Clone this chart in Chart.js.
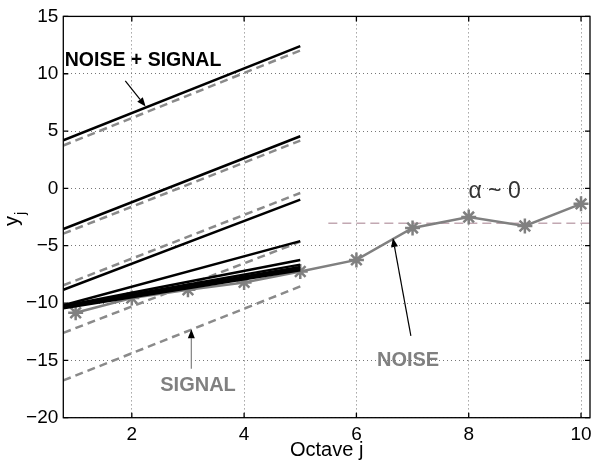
<!DOCTYPE html>
<html>
<head>
<meta charset="utf-8">
<script src="https://cdn.jsdelivr.net/npm/chart.js@4.4.1/dist/chart.umd.min.js"></script>
<style>
  html, body { margin: 0; padding: 0; background: #fff; }
  #wrap { width: 600px; height: 470px; }
</style>
</head>
<body>
<div id="wrap"><canvas id="c" width="600" height="470"></canvas></div>
<script>
// ---------- data ----------
const octaves = [1, 2, 3, 4, 5, 6, 7, 8, 9, 10];
const noise = [-10.85, -9.56, -8.84, -8.2, -7.25, -6.24, -3.45, -2.5, -3.28, -1.35];

// fitted lines over octaves [lineX0, lineX1]
const lineX = [0.78, 5];
const solidStart = [4.2, -3.55, -8.84, -10.2, -10.25, -10.3, -10.35, -10.4, -10.45];
const solidEnd   = [12.4, 4.55, -0.98, -4.6, -6.25, -6.65, -6.85, -7.0, -7.15];
const dashStart  = [3.74, -3.95, -8.45, -12.6, -16.75];
const dashEnd    = [12.03, 4.17, -0.4, -4.65, -8.55];

const refLevel = -3.05;
const refX = [5.5, 10.16];

const xRange = [0.78, 10.16];
const yRange = [-20, 15];
const xTicks = [2, 4, 6, 8, 10];
const yTicks = [-20, -15, -10, -5, 0, 5, 10, 15];

const textNotes = [
  { text: 'NOISE + SIGNAL', x: 2.2, y: 11.1, color: '#000000', weight: 'bold', size: 19.5 },
  { text: 'SIGNAL', x: 3.18, y: -17.2, color: '#808080', weight: 'bold', size: 20 },
  { text: 'NOISE', x: 6.92, y: -15.0, color: '#808080', weight: 'bold', size: 20 },
  { text: '\u03b1 ~ 0', x: 8.46, y: -0.3, color: '#333333', weight: 'normal', size: 23 }
];
const arrowNotes = [
  { from: [1.884, 9.38], to: [2.246, 7.14], shaft: '#000000', head: '#000000' },
  { from: [3.06, -15.74], to: [3.06, -12.29], shaft: '#808080', head: '#000000' },
  { from: [6.97, -12.87], to: [6.65, -4.32], shaft: '#000000', head: '#000000' }
];

// ---------- datasets ----------
const datasets = [];
solidStart.forEach((s, i) => {
  datasets.push({
    data: [{ x: lineX[0], y: s }, { x: lineX[1], y: solidEnd[i] }],
    borderColor: '#000000', borderWidth: 2.5, pointRadius: 0, fill: false
  });
});
dashStart.forEach((s, i) => {
  datasets.push({
    data: [{ x: lineX[0], y: s }, { x: lineX[1], y: dashEnd[i] }],
    borderColor: '#8a8a8a', borderWidth: 2.5, borderDash: [8, 5], pointRadius: 0, fill: false
  });
});
datasets.push({
  data: octaves.map((o, i) => ({ x: o, y: noise[i] })),
  borderColor: '#808080', borderWidth: 2.5,
  pointStyle: 'star', pointRadius: 7.5, pointBorderWidth: 2.5,
  pointBorderColor: '#808080', pointBackgroundColor: '#808080', fill: false
});
datasets.push({
  data: [{ x: refX[0], y: refLevel }, { x: refX[1], y: refLevel }],
  borderColor: '#c2a8b2', borderWidth: 1.5, borderDash: [9, 5], pointRadius: 0, fill: false
});

const FONT = 'Liberation Sans, Arial, Helvetica, sans-serif';

function drawArrow(ctx, x1, y1, x2, y2, shaft, head) {
  const ang = Math.atan2(y2 - y1, x2 - x1);
  const L = 9, W = 3.5;
  const bx = x2 - L * Math.cos(ang), by = y2 - L * Math.sin(ang);
  ctx.strokeStyle = shaft; ctx.lineWidth = 1.2;
  ctx.beginPath(); ctx.moveTo(x1, y1); ctx.lineTo(bx, by); ctx.stroke();
  ctx.fillStyle = head;
  ctx.beginPath();
  ctx.moveTo(x2, y2);
  ctx.lineTo(bx + W * Math.sin(ang), by - W * Math.cos(ang));
  ctx.lineTo(bx - W * Math.sin(ang), by + W * Math.cos(ang));
  ctx.closePath(); ctx.fill();
}

const framePlugin = {
  id: 'frame',
  afterDraw(chart) {
    const ctx = chart.ctx, a = chart.chartArea;
    const xs = chart.scales.x, ys = chart.scales.y;
    ctx.save();
    ctx.strokeStyle = '#000'; ctx.lineWidth = 1.3; ctx.setLineDash([]);
    ctx.strokeRect(a.left, a.top, a.right - a.left, a.bottom - a.top);
    const tl = 5;
    ctx.beginPath();
    xs.ticks.forEach(t => {
      const px = xs.getPixelForValue(t.value);
      ctx.moveTo(px, a.bottom); ctx.lineTo(px, a.bottom - tl);
      ctx.moveTo(px, a.top); ctx.lineTo(px, a.top + tl);
    });
    ys.ticks.forEach(t => {
      const py = ys.getPixelForValue(t.value);
      ctx.moveTo(a.left, py); ctx.lineTo(a.left + tl, py);
      ctx.moveTo(a.right, py); ctx.lineTo(a.right - tl, py);
    });
    ctx.stroke();
    arrowNotes.forEach(n => {
      drawArrow(ctx, xs.getPixelForValue(n.from[0]), ys.getPixelForValue(n.from[1]),
        xs.getPixelForValue(n.to[0]), ys.getPixelForValue(n.to[1]), n.shaft, n.head);
    });
    textNotes.forEach(n => {
      ctx.font = n.weight + ' ' + n.size + 'px ' + FONT;
      ctx.fillStyle = n.color; ctx.textAlign = 'center'; ctx.textBaseline = 'middle';
      ctx.fillText(n.text, xs.getPixelForValue(n.x), ys.getPixelForValue(n.y));
    });
    // y axis title y_j
    ctx.translate(18, 220);
    ctx.rotate(-Math.PI / 2);
    ctx.fillStyle = '#000'; ctx.textAlign = 'left'; ctx.textBaseline = 'alphabetic';
    ctx.font = '20px ' + FONT;
    ctx.fillText('y', -6, 0);
    ctx.font = '14px ' + FONT;
    ctx.fillText('j', 5, 7);
    ctx.restore();
  }
};

const fmt = v => String(v).replace('-', '\u2212');

new Chart(document.getElementById('c'), {
  type: 'line',
  data: { datasets },
  options: {
    responsive: false,
    animation: false,
    devicePixelRatio: 1,
    layout: { padding: { top: 12, right: 2, left: 0, bottom: 0 } },
    plugins: { legend: { display: false }, tooltip: { enabled: false } },
    scales: {
      x: {
        type: 'linear', min: xRange[0], max: xRange[1],
        afterBuildTicks: s => { s.ticks = xTicks.map(v => ({ value: v })); },
        afterFit: s => { s.height = 52.3; },
        grid: { color: '#777', lineWidth: 1, drawTicks: false },
        border: { display: false, dash: [1, 3] },
        ticks: { color: '#000', font: { family: FONT, size: 19 }, padding: 6, callback: fmt, maxRotation: 0 },
        title: { display: true, text: 'Octave j', color: '#000', font: { family: FONT, size: 20 }, padding: { top: 0, bottom: 8 } }
      },
      y: {
        type: 'linear', min: yRange[0], max: yRange[1],
        afterBuildTicks: s => { s.ticks = yTicks.map(v => ({ value: v })); },
        afterFit: s => { s.width = 63.3; },
        grid: { color: '#777', lineWidth: 1, drawTicks: false },
        border: { display: false, dash: [1, 3] },
        ticks: { color: '#000', font: { family: FONT, size: 19 }, padding: 5, callback: fmt }
      }
    }
  },
  plugins: [framePlugin]
});
</script>
</body>
</html>
